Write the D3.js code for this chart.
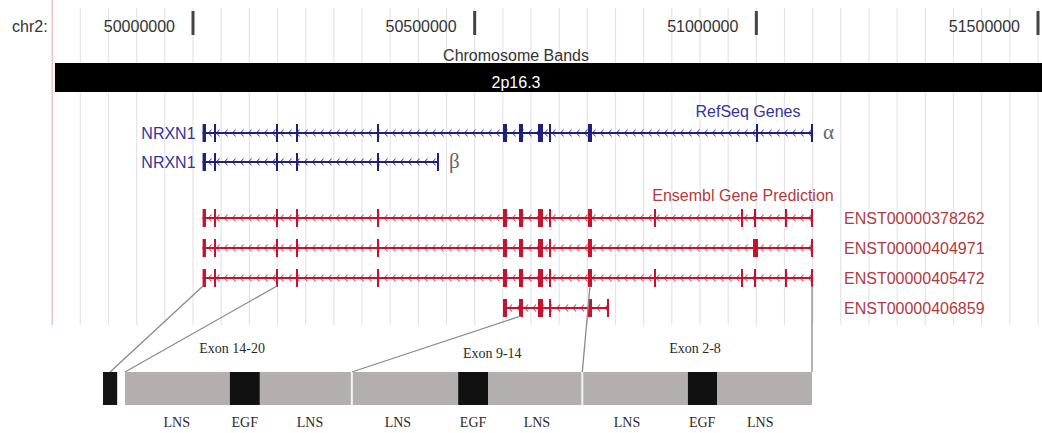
<!DOCTYPE html>
<html>
<head>
<meta charset="utf-8">
<script src="https://cdn.jsdelivr.net/npm/d3@7/dist/d3.min.js"></script>
<style>
body { margin: 0; background: #fff; }
svg { display: block; }
.sans { font-family: 'Liberation Sans', Arial, sans-serif; }
.serif { font-family: 'Liberation Serif', 'Times New Roman', serif; }
</style>
</head>
<body>
<svg id="chart" width="1042" height="433"></svg>
<script>
// genome browser coordinates (chr2, bp)
const chromName = 'chr2:'
const axisTicks = [50000000, 50500000, 51000000, 51500000]
const gridTicks = d3.range(49800000, 51550001, 50000)
const bandName = '2p16.3'

const refseqNames = ['NRXN1', 'NRXN1']
const refseqIsoforms = ['α', 'β']
const refseqExons = [
	[[50017000, 50023000], [50037300, 50040900], [50147300, 50150900], [50182800, 50186400],
	 [50326600, 50330200], [50550300, 50557400], [50578700, 50585800], [50612400, 50621300],
	 [50632000, 50635500], [50701200, 50708300], [50999400, 51003000], [51097000, 51100600]],
	[[50017000, 50023000], [50037300, 50040900], [50147300, 50150900], [50182800, 50186400],
	 [50326600, 50330200], [50433100, 50436700]]
]

const ensemblNames = ['ENST00000378262', 'ENST00000404971', 'ENST00000405472', 'ENST00000406859']
const ensemblExons = [
	[[50017000, 50023000], [50037300, 50040900], [50147300, 50150900], [50182800, 50186400],
	 [50326600, 50330200], [50550300, 50557400], [50578700, 50585800], [50612400, 50621300],
	 [50632000, 50635500], [50701200, 50708300], [50818300, 50821900], [50972800, 50976400],
	 [50995800, 50999400], [51050900, 51054500], [51097000, 51100600]],
	[[50017000, 50023000], [50037300, 50040900], [50147300, 50150900], [50182800, 50186400],
	 [50326600, 50330200], [50550300, 50557400], [50578700, 50585800], [50612400, 50621300],
	 [50632000, 50635500], [50701200, 50708300], [50994100, 51003000], [51097000, 51100600]],
	[[50017000, 50023000], [50037300, 50040900], [50147300, 50150900], [50182800, 50186400],
	 [50326600, 50330200], [50550300, 50557400], [50578700, 50585800], [50612400, 50621300],
	 [50632000, 50635500], [50701200, 50708300], [50818300, 50821900], [50972800, 50976400],
	 [50995800, 50999400], [51050900, 51054500], [51097000, 51100600]],
	[[50550300, 50557400], [50578700, 50585800], [50612400, 50621300], [50632000, 50635500],
	 [50701200, 50708300], [50734900, 50738500]]
]

// protein schematic (arbitrary units 0-1000)
const signalPeptide = [0, 20]
const proteinBody = [31, 1000]
const exonBreaks = [351, 676]
const egfDomains = [[179, 221], [501, 543], [825, 866]]
const domainLabels = ['LNS', 'EGF', 'LNS', 'LNS', 'EGF', 'LNS', 'LNS', 'EGF', 'LNS']
const domainLabelPos = [104, 200, 292, 416, 522, 612, 739, 845, 927]
const exonGroupLabels = ['Exon 14-20', 'Exon 9-14', 'Exon 2-8']
const exonGroupPos = [182, 549, 835]

// genomic position -> protein position links
const connectors = [
	{ bp: 50017750, row: 2, aa: 10 },
	{ bp: 50149100, row: 2, aa: 31 },
	{ bp: 50582200, row: 3, aa: 351 },
	{ bp: 50704700, row: 2, aa: 676 },
	{ bp: 51098800, row: 2, aa: 1000 }
]

const BLUE = '#1f1f7c'
const BLUE_TEXT = '#34349a'
const RED = '#c4122f'
const RED_TEXT = '#b23a3e'
const EXON_H = 18
const BAR_Y = 372
const BAR_H = 33

const svg = d3.select('#chart')

const x = d3.scaleLinear().domain([50000000, 51500000]).range([193, 1038])
const yRef = d3.scaleLinear().domain([0, 1]).range([133, 162])
const yEns = d3.scaleLinear().domain([0, 3]).range([218, 308])
const p = d3.scaleLinear().domain([0, 1000]).range([103, 812])

// grid
const grid = svg.append('g').attr('class', 'grid')
grid.selectAll('line')
	.data(gridTicks)
	.enter().append('line')
		.attr('x1', d => x(d)).attr('x2', d => x(d))
		.attr('y1', 8).attr('y2', 325)
		.attr('stroke', '#e4e4e8')
		.attr('stroke-width', 1.2)
svg.append('line')
	.attr('x1', x(49750000)).attr('x2', x(49750000))
	.attr('y1', 0).attr('y2', 325)
	.attr('stroke', '#f2b4b8')
	.attr('stroke-width', 1.2)

// base position axis
svg.append('text').attr('class', 'sans')
	.attr('x', 12).attr('y', 32)
	.attr('font-size', 16).attr('fill', '#333')
	.text(chromName)

const tick = svg.append('g').selectAll('g')
	.data(axisTicks)
	.enter().append('g')
		.attr('transform', d => `translate(${x(d)},0)`)
tick.append('rect')
	.attr('x', -1.5).attr('y', 11).attr('width', 3).attr('height', 24)
	.attr('fill', '#444')
tick.append('text').attr('class', 'sans')
	.attr('x', -18).attr('y', 32)
	.attr('text-anchor', 'end')
	.attr('font-size', 16).attr('fill', '#333')
	.text(d => d)

// chromosome band
svg.append('text').attr('class', 'sans')
	.attr('x', 516).attr('y', 61)
	.attr('text-anchor', 'middle')
	.attr('font-size', 16).attr('fill', '#333')
	.text('Chromosome Bands')
svg.append('rect')
	.attr('x', x(49755000)).attr('y', 63)
	.attr('width', 1042 - x(49755000)).attr('height', 29)
	.attr('fill', '#000')
svg.append('text').attr('class', 'sans')
	.attr('x', 516).attr('y', 88)
	.attr('text-anchor', 'middle')
	.attr('font-size', 16).attr('fill', '#fff')
	.text(bandName)

function drawTranscript(g, exons, y, color) {
	const x0 = x(exons[0][0])
	const x1 = x(exons[exons.length - 1][1])
	g.append('line')
		.attr('x1', x0).attr('x2', x1)
		.attr('y1', y).attr('y2', y)
		.attr('stroke', color).attr('stroke-width', 2)
	// minus strand chevrons
	g.selectAll('.chev')
		.data(d3.range(x0 + 7, x1 - 3, 8))
		.enter().append('path')
			.attr('class', 'chev')
			.attr('d', d => `M${d + 2},${y - 3.5}L${d - 1},${y}L${d + 2},${y + 3.5}`)
			.attr('fill', 'none')
			.attr('stroke', color).attr('stroke-width', 1.1)
			.attr('opacity', 0.75)
	g.selectAll('.exon')
		.data(exons)
		.enter().append('rect')
			.attr('class', 'exon')
			.attr('x', d => x(d[0]))
			.attr('width', d => Math.max(2, x(d[1]) - x(d[0])))
			.attr('y', y - EXON_H / 2)
			.attr('height', EXON_H)
			.attr('fill', color)
}

// RefSeq genes
svg.append('text').attr('class', 'sans')
	.attr('x', 748).attr('y', 117)
	.attr('text-anchor', 'middle')
	.attr('font-size', 16).attr('fill', BLUE_TEXT)
	.text('RefSeq Genes')

refseqExons.forEach((exons, i) => {
	const g = svg.append('g').attr('class', 'refseq')
	drawTranscript(g, exons, yRef(i), BLUE)
	g.append('text').attr('class', 'sans')
		.attr('x', x(exons[0][0]) - 7).attr('y', yRef(i) + 6)
		.attr('text-anchor', 'end')
		.attr('font-size', 16).attr('fill', BLUE_TEXT)
		.text(refseqNames[i])
	g.append('text').attr('class', 'serif')
		.attr('x', x(exons[exons.length - 1][1]) + 10).attr('y', yRef(i) + 6)
		.attr('font-size', 21).attr('fill', '#666')
		.text(refseqIsoforms[i])
})

// Ensembl predictions
svg.append('text').attr('class', 'sans')
	.attr('x', 743).attr('y', 201)
	.attr('text-anchor', 'middle')
	.attr('font-size', 16).attr('fill', RED_TEXT)
	.text('Ensembl Gene Prediction')

ensemblExons.forEach((exons, i) => {
	const g = svg.append('g').attr('class', 'ensembl')
	drawTranscript(g, exons, yEns(i), RED)
	g.append('text').attr('class', 'sans')
		.attr('x', 844).attr('y', yEns(i) + 6)
		.attr('font-size', 16).attr('fill', RED_TEXT)
		.text(ensemblNames[i])
})

// connector lines
svg.append('g').selectAll('line')
	.data(connectors)
	.enter().append('line')
		.attr('x1', d => x(d.bp)).attr('y1', d => yEns(d.row) + 8)
		.attr('x2', d => p(d.aa)).attr('y2', BAR_Y)
		.attr('stroke', '#8a8a8a').attr('stroke-width', 1.3)

// protein domains
const prot = svg.append('g').attr('class', 'protein')
prot.append('rect')
	.attr('x', p(signalPeptide[0])).attr('y', BAR_Y)
	.attr('width', p(signalPeptide[1]) - p(signalPeptide[0])).attr('height', BAR_H)
	.attr('fill', '#151515')
prot.append('rect')
	.attr('x', p(proteinBody[0])).attr('y', BAR_Y)
	.attr('width', p(proteinBody[1]) - p(proteinBody[0])).attr('height', BAR_H)
	.attr('fill', '#b3afaf')
prot.selectAll('.egf')
	.data(egfDomains)
	.enter().append('rect')
		.attr('class', 'egf')
		.attr('x', d => p(d[0])).attr('y', BAR_Y)
		.attr('width', d => p(d[1]) - p(d[0])).attr('height', BAR_H)
		.attr('fill', '#111')
prot.selectAll('.brk')
	.data(exonBreaks)
	.enter().append('line')
		.attr('class', 'brk')
		.attr('x1', d => p(d)).attr('x2', d => p(d))
		.attr('y1', BAR_Y).attr('y2', BAR_Y + BAR_H)
		.attr('stroke', '#f4f4f4').attr('stroke-width', 2)

prot.selectAll('.dlab')
	.data(domainLabels)
	.enter().append('text')
		.attr('class', 'dlab serif')
		.attr('x', (d, i) => p(domainLabelPos[i])).attr('y', 427)
		.attr('text-anchor', 'middle')
		.attr('font-size', 14).attr('fill', '#2a2a2a')
		.text(d => d)

prot.selectAll('.elab')
	.data(exonGroupLabels)
	.enter().append('text')
		.attr('class', 'elab serif')
		.attr('x', (d, i) => p(exonGroupPos[i]))
		.attr('y', (d, i) => i === 1 ? 358 : 353)
		.attr('text-anchor', 'middle')
		.attr('font-size', 14).attr('fill', '#2a2a2a')
		.text(d => d)
</script>
</body>
</html>
